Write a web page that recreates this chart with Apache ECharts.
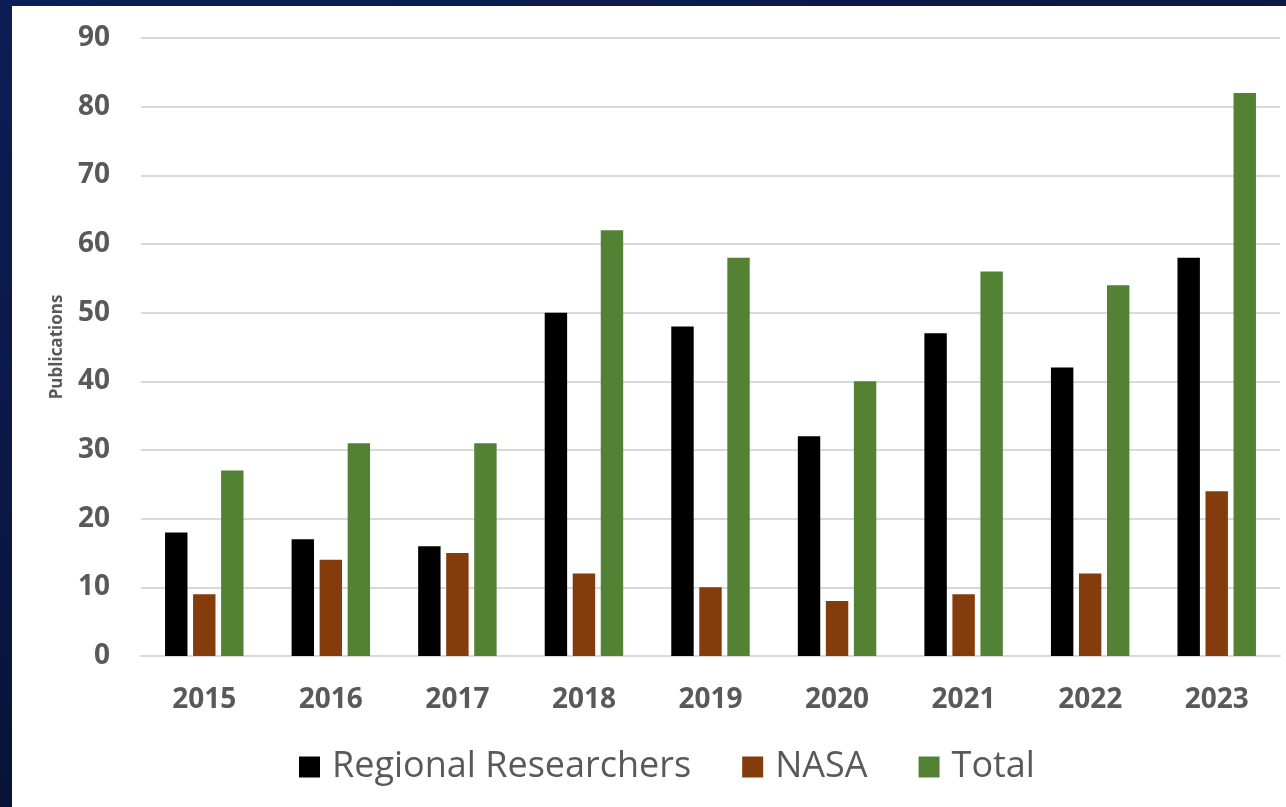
<!DOCTYPE html>
<html>
<head>
<meta charset="utf-8">
<script src="https://cdn.jsdelivr.net/npm/echarts@6/dist/echarts.min.js"></script>
<style>
  html, body { margin: 0; padding: 0; width: 1286px; height: 807px; overflow: hidden;
    background: linear-gradient(160deg, #0d1d55 0%, #0a1640 50%, #020a1c 100%); }
  #chart { position: absolute; left: 12px; top: 6px; width: 1274px; height: 801px; background: #fff; }
</style>
</head>
<body>
<div id="chart"></div>
<script>
const years = ["2015", "2016", "2017", "2018", "2019", "2020", "2021", "2022", "2023"];
const regional = [18, 17, 16, 50, 48, 32, 47, 42, 58];
const nasa = [9, 14, 15, 12, 10, 8, 9, 12, 24];
const total = [27, 31, 31, 62, 58, 40, 56, 54, 82];

const font = "'Open Sans', 'DejaVu Sans', sans-serif";
const chart = echarts.init(document.getElementById("chart"));

const option = {
  animation: false,
  grid: { left: 129, right: 6, top: 32, bottom: 151 },
  legend: {
    left: 282,
    top: 738,
    itemWidth: 21,
    itemHeight: 21,
    itemGap: 51,
    icon: "rect",
    textStyle: { fontFamily: font, fontSize: 36, color: "#595959", padding: [0, 0, 0, 7] },
    data: ["Regional Researchers", "NASA", "Total"],
  },
  xAxis: {
    type: "category",
    data: years,
    axisTick: { show: false },
    axisLine: { lineStyle: { color: "#d9d9d9", width: 2 } },
    axisLabel: { color: "#595959", fontFamily: font, fontWeight: "bold", fontSize: 28, margin: 30 },
  },
  yAxis: {
    type: "value",
    min: 0,
    max: 90,
    interval: 10,
    name: "Publications",
    nameLocation: "middle",
    nameGap: 75,
    nameTextStyle: { fontFamily: font, fontSize: 17, fontWeight: "bold", color: "#595959" },
    axisLine: { show: false },
    axisTick: { show: false },
    splitLine: { lineStyle: { color: "#d9d9d9", width: 2 } },
    axisLabel: { color: "#595959", fontFamily: font, fontWeight: "bold", fontSize: 28, margin: 31 },
  },
  series: [
    { name: "Regional Researchers", type: "bar", data: regional, barGap: "25%", barCategoryGap: "38%",
      itemStyle: { color: "#000000" } },
    { name: "NASA", type: "bar", data: nasa, itemStyle: { color: "#843c0c" } },
    { name: "Total", type: "bar", data: total, itemStyle: { color: "#548235" } },
  ],
};
chart.setOption(option);
</script>
</body>
</html>
